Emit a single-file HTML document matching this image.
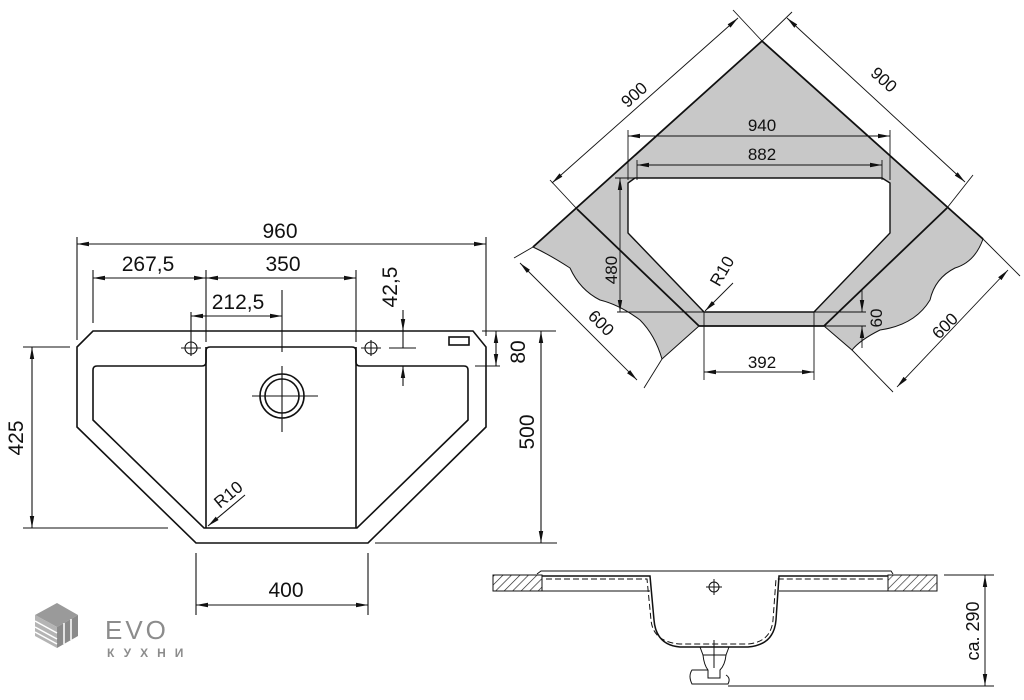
<!DOCTYPE html>
<html><head><meta charset="utf-8"><style>
html,body{margin:0;padding:0;background:#fff;}
svg{display:block;}
text{font-family:"Liberation Sans",sans-serif;fill:#111;}
</style></head><body>
<svg width="1024" height="700" viewBox="0 0 1024 700" xmlns="http://www.w3.org/2000/svg">
<defs>
<marker id="a" viewBox="0 0 12 6" refX="12" refY="3" markerWidth="12" markerHeight="6" markerUnits="userSpaceOnUse" orient="auto-start-reverse">
<path d="M0,0.8 L12,3 L0,5.2 Z" fill="#111"/></marker>
<pattern id="h" width="6" height="6" patternUnits="userSpaceOnUse" patternTransform="rotate(45)">
<rect width="6" height="6" fill="#fff"/><line x1="0" y1="0" x2="0" y2="6" stroke="#222" stroke-width="1.3"/></pattern>
</defs>

<!-- LEFT PLAN VIEW -->
<g fill="none" stroke="#111" stroke-width="1.6">
<path d="M93,331 L473,331 L486,347 L486,427 L368,543 L196,543 L77,427 L77,347 Z"/>
<path d="M93,370 Q93,366 97,366 L202,366 Q206,366 206,362 L206,351 Q206,347 210,347 L352,347 Q356,347 356,351 L356,362 Q356,366 360,366 L464,366 Q468,366 468,370 L468,420 L357,528 L204,528 L93,420 Z"/>
<line x1="206" y1="347" x2="206" y2="528"/>
<line x1="356" y1="347" x2="356" y2="528"/>
<circle cx="282" cy="396" r="22"/>
<circle cx="282" cy="396" r="17"/>
<rect x="449" y="337" width="20" height="8"/>
</g>
<g fill="none" stroke="#111" stroke-width="1.1">
<line x1="252" y1="396" x2="318" y2="396"/>
<line x1="282" y1="290" x2="282" y2="352"/>
<line x1="282" y1="366" x2="282" y2="432"/>
<circle cx="191" cy="348" r="6"/><line x1="181" y1="348" x2="201" y2="348"/><line x1="191" y1="312" x2="191" y2="356"/>
<circle cx="371" cy="348" r="6"/><line x1="361" y1="348" x2="381" y2="348"/><line x1="371" y1="340" x2="371" y2="356"/>
<line x1="77" y1="237" x2="77" y2="340"/>
<line x1="486" y1="237" x2="486" y2="336"/>
<line x1="93" y1="270" x2="93" y2="323"/>
<line x1="206" y1="270" x2="206" y2="342"/>
<line x1="356" y1="270" x2="356" y2="342"/>
<line x1="389" y1="348" x2="416" y2="348"/>
<line x1="360" y1="366" x2="416" y2="366"/>
<line x1="475" y1="366" x2="500" y2="366"/>
<line x1="482" y1="331" x2="556" y2="331"/>
<line x1="375" y1="543" x2="557" y2="543"/>
<line x1="23" y1="347" x2="70" y2="347"/>
<line x1="23" y1="528" x2="168" y2="528"/>
<line x1="196" y1="553" x2="196" y2="615"/>
<line x1="368" y1="553" x2="368" y2="615"/>
<line x1="77" y1="244" x2="486" y2="244" marker-start="url(#a)" marker-end="url(#a)"/>
<line x1="93" y1="278" x2="206" y2="278" marker-start="url(#a)" marker-end="url(#a)"/>
<line x1="206" y1="278" x2="356" y2="278" marker-start="url(#a)" marker-end="url(#a)"/>
<line x1="191" y1="316" x2="282" y2="316" marker-start="url(#a)" marker-end="url(#a)"/>
<line x1="403" y1="310" x2="403" y2="331" marker-end="url(#a)"/>
<line x1="403" y1="331" x2="403" y2="348"/>
<line x1="403" y1="386" x2="403" y2="366" marker-end="url(#a)"/>
<line x1="496" y1="331" x2="496" y2="366" marker-start="url(#a)" marker-end="url(#a)"/>
<line x1="541" y1="331" x2="541" y2="543" marker-start="url(#a)" marker-end="url(#a)"/>
<line x1="32" y1="347" x2="32" y2="528" marker-start="url(#a)" marker-end="url(#a)"/>
<line x1="196" y1="605" x2="368" y2="605" marker-start="url(#a)" marker-end="url(#a)"/>
<line x1="245" y1="495" x2="208" y2="526" marker-end="url(#a)"/>
</g>
<g font-size="21" text-anchor="middle">
<text x="280" y="238">960</text>
<text x="148" y="271">267,5</text>
<text x="283" y="271">350</text>
<text x="238" y="309">212,5</text>
<text transform="translate(397,287) rotate(-90)">42,5</text>
<text transform="translate(525,352) rotate(-90)">80</text>
<text transform="translate(534,432) rotate(-90)">500</text>
<text transform="translate(23,438) rotate(-90)">425</text>
<text x="286" y="597">400</text>
<text font-size="17" transform="translate(232,499) rotate(-40)">R10</text>
</g>

<!-- TOP RIGHT CORNER VIEW -->
<path d="M762,41 L983,239 Q975,262 955,268 Q935,278 930,300 Q915,325 880,330 Q860,340 852,350 L824,326 L699,326 L662,359 Q655,335 640,320 Q620,305 600,300 Q580,290 570,268 Q550,255 533,247 Z" fill="#c8c8c8" stroke="#111" stroke-width="1"/>
<path d="M635,178 L882,178 L890,183 L890,233 L814,312 L704,312 L628,233 L628,183 Z" fill="#fff" stroke="#111" stroke-width="1.4"/>
<g fill="none" stroke="#111" stroke-width="1.8">
<line x1="762" y1="41" x2="533" y2="247"/>
<line x1="762" y1="41" x2="983" y2="239"/>
<line x1="577" y1="209" x2="699" y2="326"/>
<line x1="947" y1="208" x2="824" y2="326"/>
<line x1="699" y1="326" x2="824" y2="326"/>
</g>
<g fill="none" stroke="#111" stroke-width="0.9">
<line x1="628" y1="130" x2="628" y2="180"/>
<line x1="890" y1="130" x2="890" y2="180"/>
<line x1="628" y1="136" x2="890" y2="136" marker-start="url(#a)" marker-end="url(#a)"/>
<line x1="637" y1="160" x2="637" y2="180"/>
<line x1="882" y1="160" x2="882" y2="180"/>
<line x1="637" y1="165" x2="882" y2="165" marker-start="url(#a)" marker-end="url(#a)"/>
<line x1="615" y1="178" x2="635" y2="178"/>
<line x1="617" y1="312" x2="704" y2="312"/>
<line x1="620" y1="178" x2="620" y2="312" marker-start="url(#a)" marker-end="url(#a)"/>
<line x1="733" y1="283" x2="705" y2="311" marker-end="url(#a)"/>
<line x1="704" y1="312" x2="704" y2="380"/>
<line x1="814" y1="312" x2="814" y2="380"/>
<line x1="704" y1="372" x2="814" y2="372" marker-start="url(#a)" marker-end="url(#a)"/>
<line x1="814" y1="312" x2="866" y2="312"/>
<line x1="824" y1="326" x2="866" y2="326"/>
<line x1="862" y1="290" x2="862" y2="312" marker-end="url(#a)"/>
<line x1="862" y1="348" x2="862" y2="326" marker-end="url(#a)"/>
<line x1="762" y1="41" x2="733" y2="10"/>
<line x1="577" y1="209" x2="550" y2="180"/>
<line x1="552" y1="183" x2="738" y2="18" marker-start="url(#a)" marker-end="url(#a)"/>
<line x1="762" y1="41" x2="792" y2="12"/>
<line x1="947" y1="208" x2="973" y2="175"/>
<line x1="787" y1="18" x2="965" y2="182" marker-start="url(#a)" marker-end="url(#a)"/>
<line x1="533" y1="247" x2="514" y2="258"/>
<line x1="662" y1="359" x2="644" y2="388"/>
<line x1="520" y1="263" x2="637" y2="380" marker-start="url(#a)" marker-end="url(#a)"/>
<line x1="983" y1="239" x2="1020" y2="276"/>
<line x1="852" y1="350" x2="893" y2="392"/>
<line x1="1008" y1="270" x2="897" y2="387" marker-start="url(#a)" marker-end="url(#a)"/>
</g>
<g font-size="17" text-anchor="middle">
<text x="762" y="131">940</text>
<text x="762" y="160">882</text>
<text x="762" y="368">392</text>
<text transform="translate(617,270) rotate(-90)">480</text>
<text transform="translate(882,318) rotate(-90)">60</text>
<text transform="translate(727,274) rotate(-60)">R10</text>
<text transform="translate(638,99) rotate(-42)">900</text>
<text transform="translate(880,84) rotate(42)">900</text>
<text transform="translate(597,327) rotate(45)">600</text>
<text transform="translate(949,330) rotate(-45)">600</text>
</g>

<!-- SECTION VIEW -->
<rect x="493" y="575" width="49" height="16" fill="url(#h)" stroke="#111" stroke-width="1"/>
<rect x="888" y="575" width="49" height="16" fill="url(#h)" stroke="#111" stroke-width="1"/>
<g fill="none" stroke="#111" stroke-width="1">
<line x1="542" y1="591" x2="650" y2="591"/>
<line x1="779" y1="591" x2="888" y2="591"/>
<path d="M537,574 L541,571 L891,571 L893,574"/>
<path d="M542,576 L650,576 L654,620 Q656,645 680,647 L748,647 Q774,645 776,620 L779,576 L888,576" stroke-width="1.5"/>
<path d="M546,579 L647,579 L651,620 Q653,642 680,644 L748,644 Q771,642 773,620 L776,579 L884,579" stroke-dasharray="6 3"/>
<path d="M700,647 L703,655 L726,655 L729,647"/>
<path d="M703,655 Q704,665 708,670 L708,678 L720,678 L720,670 Q725,665 726,655"/>
<path d="M708,670 L692,670 Q688,676 692,684 L728,684 Q731,678 726,675"/>
<line x1="714" y1="640" x2="714" y2="668"/>
<circle cx="714" cy="587" r="5"/>
<line x1="706" y1="587" x2="722" y2="587"/><line x1="714" y1="579" x2="714" y2="595"/>
<line x1="944" y1="575" x2="994" y2="575"/>
<line x1="728" y1="686" x2="994" y2="686"/>
<line x1="985" y1="575" x2="985" y2="686" marker-start="url(#a)" marker-end="url(#a)"/>
</g>
<text font-size="18" text-anchor="middle" transform="translate(979,631) rotate(-90)">ca. 290</text>

<!-- LOGO -->
<g>
<path d="M35,615 L57,603 L78,615 L57,627 Z" fill="#9a9a9a"/>
<path d="M35,615 L57,627 L57,648 L35,636 Z" fill="#b4b4b4"/>
<path d="M57,627 L78,615 L78,636 L57,648 Z" fill="#8a8a8a"/>
<g stroke="#fff" stroke-width="1.5">
<line x1="35" y1="621" x2="57" y2="633"/><line x1="35" y1="627" x2="57" y2="639"/><line x1="35" y1="632" x2="57" y2="644"/>
<line x1="64" y1="623" x2="64" y2="644"/><line x1="71" y1="619" x2="71" y2="640"/>
</g>
</g>
<text x="105" y="639" font-size="26" style="fill:#8c8c8c;letter-spacing:3px">EVO</text>
<text x="107" y="657" font-size="12" font-weight="bold" style="fill:#8c8c8c;letter-spacing:9px">КУХНИ</text>
</svg>
</body></html>
